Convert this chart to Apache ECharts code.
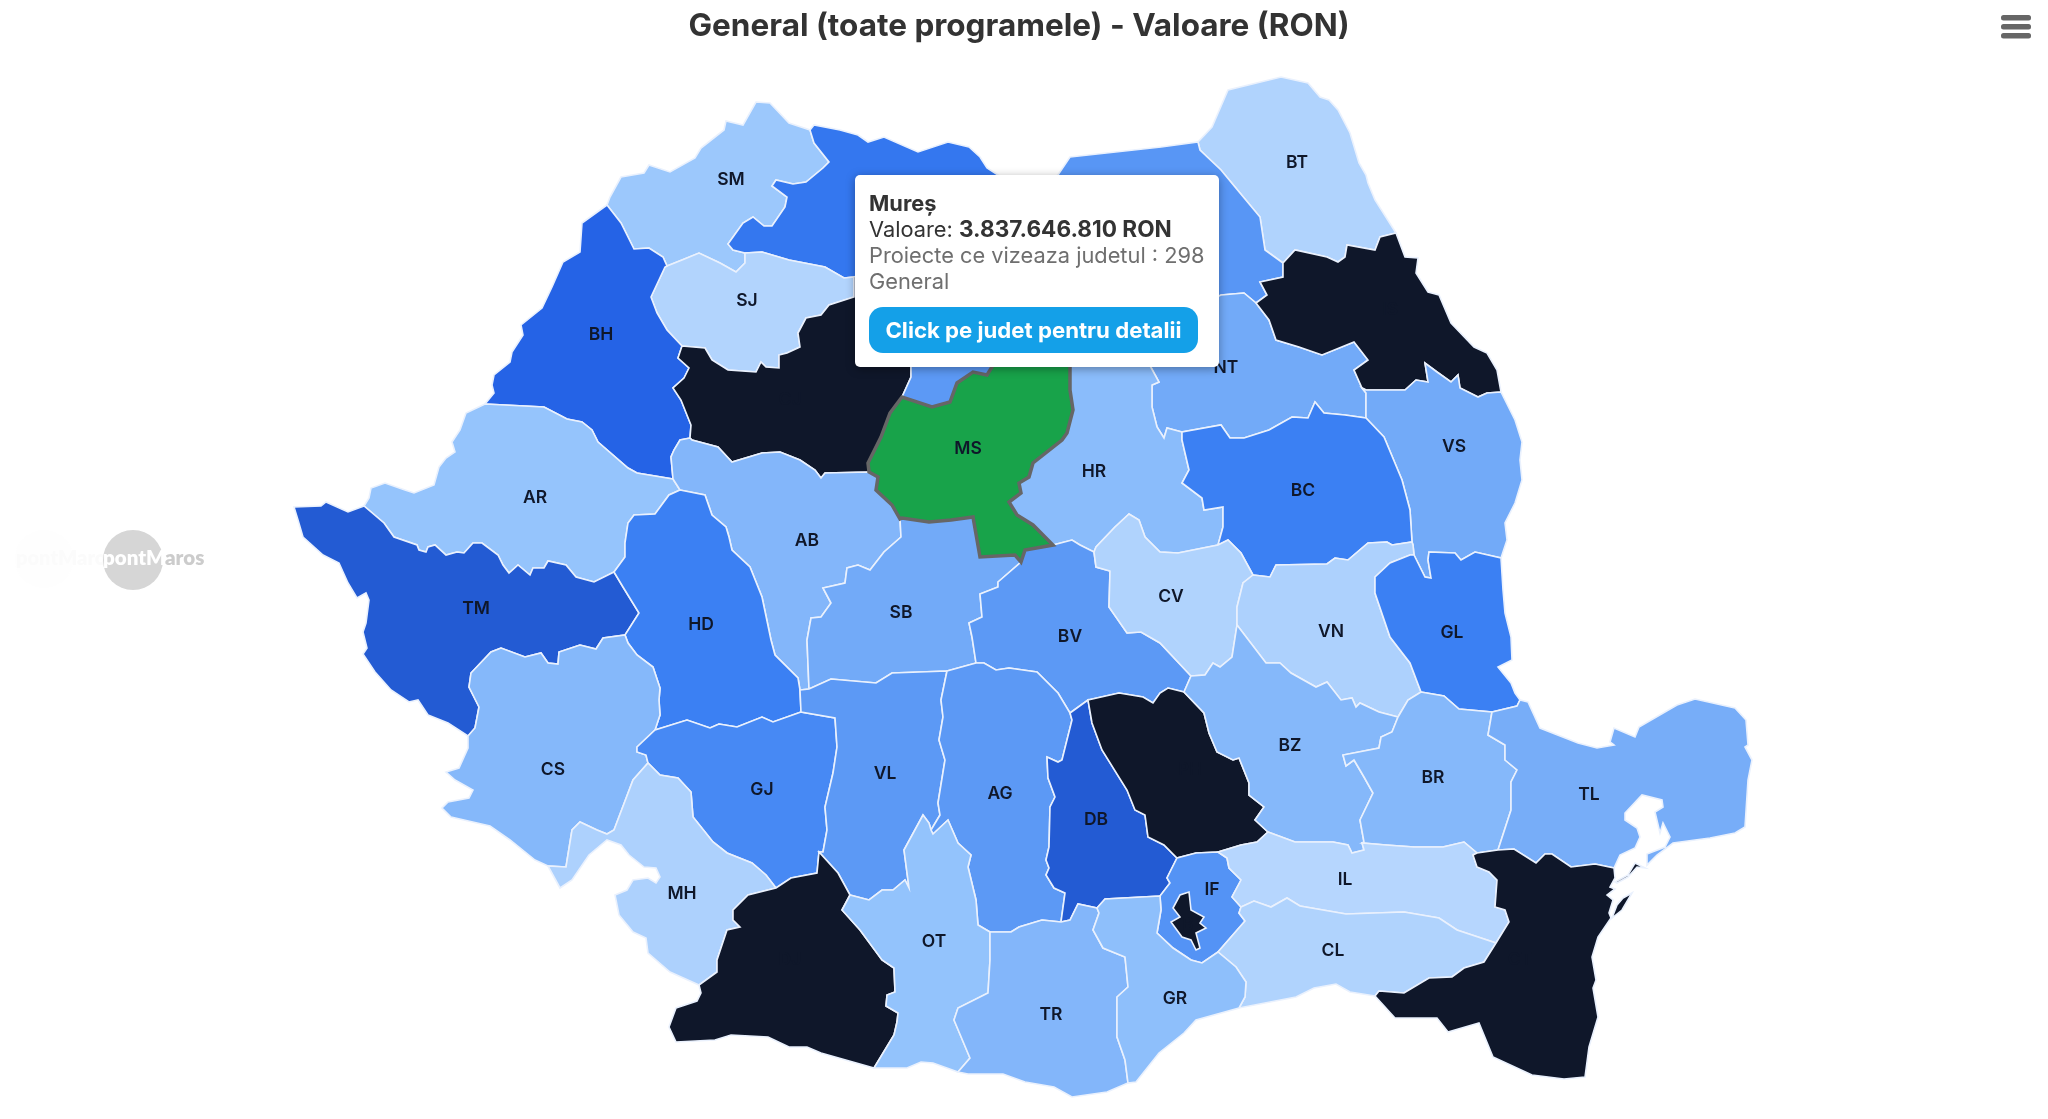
<!DOCTYPE html>
<html>
<head>
<meta charset="utf-8">
<title>General (toate programele) - Valoare (RON)</title>
<script src="https://cdn.jsdelivr.net/npm/echarts@6/dist/echarts.min.js"></script>
<style>
html,body{margin:0;padding:0;background:#fff}
#harta{width:2048px;height:1119px}
</style>
</head>
<body>
<div id="harta"></div>
<script>
var titlu = 'General (toate programele) - Valoare (RON)';

var coduri = ['SM','MM','BT','SV','SJ','BH','CJ','BN','NT','IS','VS','HR','BC','AR','AB','TM','HD','SB','BV','CV','VN','GL','CS','GJ','VL','AG','DB','PH','BZ','BR','TL','MH','DJ','OT','IF','B','IL','CL','TR','GR','CT','MS'];
var judete = ['Satu Mare','Maramureș','Botoșani','Suceava','Sălaj','Bihor','Cluj','Bistrița-Năsăud','Neamț','Iași','Vaslui','Harghita','Bacău','Arad','Alba','Timiș','Hunedoara','Sibiu','Brașov','Covasna','Vrancea','Galați','Caraș-Severin','Gorj','Vâlcea','Argeș','Dâmbovița','Prahova','Buzău','Brăila','Tulcea','Mehedinți','Dolj','Olt','Ilfov','București','Ialomița','Călărași','Teleorman','Giurgiu','Constanța','Mureș'];
// RON, citite din culoare (doar MS e exact, din tooltip)
var valori = [800000000,3300000000,350000000,2300000000,300000000,4000000000,6500000000,2200000000,1700000000,7000000000,1700000000,1200000000,3000000000,950000000,1350000000,4100000000,3000000000,1700000000,2200000000,350000000,400000000,3000000000,1300000000,2700000000,2200000000,2200000000,4100000000,6000000000,1300000000,1300000000,1600000000,400000000,6500000000,1000000000,2400000000,9000000000,200000000,350000000,1350000000,1100000000,7000000000,3837646810];
var proiecte = {MS:298};
var stopuri = ['#bfdbfe','#93c3fc','#649ff6','#3b80f3','#2563e6','#0f172a'];

// limitele comune intre judete, in pixeli
var arce = {
	sm_o:'607,205 610,197 621,177 644,173 649,165 670,172 695,158 701,148 724,130 726,121 743,125 756,102 770,103 789,123 810,130',
	sm_mm:'810,130 814,143 829,162 823,168 806,182 793,184 776,180 772,186 787,197 785,207 772,226 764,226 753,217 743,223 728,244 733,250 745,253',
	sm_sj:'745,253 745,263 736,272 720,263 699,253 682,260 667,266',
	sm_bh:'667,266 663,257 649,248 634,249 621,223 607,205',
	bh_o:'607,205 582,223 580,252 563,262 552,287 542,308 521,325 523,335 512,352 510,362 494,375 492,385 494,393 485,404',
	bh_ar:'485,404 544,407 567,419 582,422 592,430 598,442 628,468 637,473 673,479',
	bh_ab:'673,479 671,457 674,450 680,440 690,438',
	bh_cj:'690,438 691,425 681,400 673,388 684,378 689,368 678,358 682,346',
	bh_sj:'682,346 667,330 657,313 651,297 665,267 667,266',
	mm_sj:'745,253 762,252 789,260 825,267 844,278 854,277',
	sj_cj:'854,277 854,297 829,305 821,315 806,318 798,333 800,347 787,353 779,355 779,368 766,367 761,362 756,372 728,370 712,360 705,348 682,346',
	mm_o:'810,130 814,125 840,130 858,135 868,142 884,137 918,152 948,142 969,147 980,157 987,168 998,175 1030,190',
	mm_sv:'1030,190 1020,250',
	mm_bn:'1020,250 900,262',
	mm_cj:'900,262 854,277',
	cj_bn:'900,262 905,300 911,367 911,377 902,397',
	cj_ms:'902,397 890,413 881,437 868,463 869,472',
	cj_ab:'869,472 825,473 821,478 815,470 800,460 780,452 762,453 732,462 718,447 692,440 690,438',
	bn_sv:'1020,250 1150,330',
	bn_nt:'1150,330 1148,362',
	bn_hr:'1148,362 1065,345',
	bn_ms:'1065,345 1000,345 992,367 987,375 973,372 957,383 950,402 932,407 902,397',
	sv_o:'1030,190 1058,175 1070,157 1161,147 1198,142',
	sv_bt:'1198,142 1200,150 1221,170 1235,187 1260,217 1265,250 1283,263',
	bt_o:'1198,142 1212,127 1228,90 1281,77 1308,83 1320,97 1329,100 1338,110 1350,133 1359,163 1366,175 1368,183 1375,200 1396,233',
	bt_is:'1396,233 1380,237 1375,250 1347,245 1345,257 1338,262 1327,257 1295,250 1283,263',
	is_o:'1396,233 1405,257 1418,258 1416,273 1428,292 1439,295 1451,323 1474,347 1487,353 1497,370 1501,392',
	is_vs:'1501,392 1487,393 1478,397 1460,388 1458,375 1451,382 1437,372 1425,363 1428,382 1416,380 1405,390 1366,390 1362,388',
	is_nt:'1362,388 1354,370 1368,360 1354,342 1322,355 1299,347 1276,340 1269,320 1256,303',
	sv_is:'1283,263 1283,277 1260,282 1267,295 1256,303',
	sv_nt:'1256,303 1244,293 1221,295 1190,310 1150,330',
	nt_vs:'1362,388 1366,393 1366,418',
	nt_bc:'1366,418 1345,415 1324,413 1315,402 1308,418 1292,417 1269,430 1244,438 1230,438 1221,425 1182,432',
	nt_hr:'1182,432 1167,428 1164,438 1157,427 1152,407 1152,385 1159,382 1148,362',
	vs_o:'1501,392 1515,420 1522,442 1520,460 1522,480 1515,503 1505,523 1507,540 1501,558',
	vs_gl:'1501,558 1475,552 1461,560 1455,553 1429,552 1428,560 1431,578 1425,577 1414,555',
	vs_vn:'1414,555 1413,545 1412,542',
	vs_bc:'1412,542 1410,510 1402,480 1384,437 1366,418',
	bc_vn:'1412,542 1392,545 1387,542 1368,543 1348,560 1335,558 1327,564 1276,565 1270,577 1253,575',
	bc_cv:'1253,575 1241,553 1228,540 1218,545',
	bc_hr:'1218,545 1223,527 1223,507 1204,510 1202,498 1182,483 1189,470 1182,440 1182,432',
	hr_cv:'1218,545 1178,553 1160,552 1145,537 1139,520 1129,514 1115,527 1096,547 1094,552',
	hr_bv:'1094,552 1080,545 1072,540 1053,545',
	hr_ms:'1053,545 1033,525 1017,515 1009,502 1021,493 1019,483 1029,477 1033,463 1062,440 1067,433 1073,410 1070,390 1070,367 1065,345',
	ms_bv:'1053,545 1025,550 1021,562',
	ms_sb:'1021,562 1015,555 980,557 973,517 951,520 929,522 902,518 900,519',
	ms_ab:'900,519 892,505 876,490 878,477 869,472',
	ar_ab:'673,479 680,490',
	ab_hd:'680,490 705,495 712,515 726,527 729,537 732,550 750,567 762,597 771,640 775,655 798,678 800,690',
	ab_vl:'800,690 809,689',
	ab_sb:'809,689 807,640 811,618 821,617 831,603 823,588 845,583 847,568 858,565 870,570 884,552 901,537 900,519',
	ar_o:'485,404 466,413 460,430 452,442 455,452 446,458 439,467 434,485 414,493 405,490 385,483 371,488 369,498 364,506',
	ar_tm:'364,506 384,523 394,537 417,545 419,550 426,552 428,547 435,545 446,555 457,552 464,553 473,543 482,543 498,555 503,565 509,573 518,565 530,575 533,568 544,568 548,561 566,565 576,577 594,582 614,572',
	ar_hd:'614,572 625,557 625,543 628,523 634,515 655,514 669,495 680,490',
	tm_o:'364,506 348,512 326,502 321,506 294,507 298,520 303,537 323,555 339,563 348,583 357,598 366,593 369,600 366,623 363,632 367,648 363,654 375,672 391,690 409,702 418,700 428,715 448,723 468,736',
	tm_cs:'468,736 475,728 479,707 469,687 471,673 491,652 501,648 525,657 541,653 548,663 558,664 559,652 580,645 596,649 603,638 625,635',
	tm_hd:'625,635 639,613 623,587 614,572',
	hd_vl:'800,690 801,712',
	hd_gj:'801,712 773,722 762,717 737,727 719,724 710,728 687,720 655,730',
	hd_cs:'655,730 660,715 659,700 660,688 653,667 637,655 628,643 625,635',
	cs_o:'468,736 468,748 459,768 446,772 455,780 473,790 469,798 448,802 442,808 451,817 490,826 510,840 535,860 548,866',
	cs_mh:'548,866 566,867 572,830 580,822 597,830 607,834 614,830 633,780 648,763',
	cs_gj:'655,730 637,747 637,752 646,755 648,763',
	gj_vl:'801,712 835,718 837,747 833,773 825,807 827,830 823,852 819,852',
	gj_dj:'819,852 817,873 791,878 776,888',
	gj_mh:'776,888 766,875 752,863 727,853 713,842 693,817 691,792 678,778 660,775 648,763',
	mh_o:'548,866 560,888 572,880 589,855 607,840 621,845 629,855 644,867 656,868 660,877 656,883 648,878 633,880 627,890 615,895 619,915 633,932 646,938 648,953 670,972 699,985',
	mh_dj:'699,985 717,972 717,960 727,930 740,927 733,920 733,910 748,895 776,888',
	dj_o:'699,985 701,993 697,1001 676,1008 669,1027 676,1042 715,1040 731,1035 768,1037 789,1047 807,1047 821,1053 874,1068',
	ot_dj:'874,1068 894,1035 897,1022 898,1013 886,1006 887,995 895,992 894,968 882,960 860,930 842,910 850,895',
	vl_dj:'850,895 838,873 819,852',
	vl_ot:'850,895 869,900 882,890 893,890 905,880 909,888 904,850 923,815 929,823 931,830',
	vl_sb:'809,689 831,679 876,683 892,673 947,671',
	vl_ag:'947,671 941,700 943,717 939,740 945,760 938,803 940,815 931,830',
	ot_ag:'931,830 933,834 948,820 958,843 971,855 968,867 976,900 978,925 990,932',
	ot_tr:'990,932 990,960 988,993 958,1008 954,1020 970,1058 958,1072',
	ot_o:'874,1068 887,1068 907,1068 921,1062 933,1063 958,1072',
	sb_ag:'947,671 976,663',
	ag_bv:'976,663 984,663 996,670 1009,668 1037,672 1058,693 1070,713',
	ag_db:'1070,713 1072,720 1062,760 1058,762 1047,757 1048,778 1055,797 1050,807 1049,847 1046,860 1049,868 1046,875 1054,888 1065,893 1061,922',
	ag_tr:'990,932 1011,932 1019,927 1042,920 1061,922',
	sb_bv:'1021,562 998,582 998,587 980,594 982,617 969,623 972,637 976,663',
	bv_cv:'1094,552 1096,567 1110,571 1109,607 1127,633 1141,632 1160,643 1191,676',
	bv_bz:'1191,676 1184,692',
	bv_ph:'1184,692 1168,688 1160,693 1153,703 1143,697 1119,693 1088,700',
	bv_db:'1088,700 1070,713',
	cv_vn:'1253,575 1243,583 1237,607 1237,625',
	cv_bz:'1237,625 1232,657 1220,667 1213,663 1205,675 1191,676',
	vn_gl:'1414,555 1410,555 1390,563 1375,577 1375,593 1390,637 1410,663 1421,692',
	vn_br:'1421,692 1408,700 1398,717',
	vn_bz:'1398,717 1379,712 1360,703 1356,707 1352,698 1341,700 1327,682 1316,687 1291,673 1280,663 1266,663 1237,625',
	gl_o:'1501,558 1503,590 1505,613 1511,637 1512,660 1498,667 1511,683 1515,693 1520,700',
	gl_tl:'1520,700 1517,706 1492,712',
	gl_br:'1492,712 1459,709 1444,696 1421,692',
	bz_br:'1398,717 1392,732 1381,737 1379,748 1343,755 1346,766 1354,760 1364,777 1373,793 1360,820 1364,842 1362,843',
	bz_il:'1362,843 1364,850 1352,853 1348,845 1333,842 1295,842 1268,832',
	bz_ph:'1268,832 1255,820 1264,807 1249,795 1249,783 1239,758 1233,760 1217,752 1209,733 1204,713 1184,692',
	br_tl:'1492,712 1488,735 1505,745 1505,760 1517,770 1511,782 1511,810 1498,850',
	br_ct:'1498,850 1477,853',
	br_il:'1477,853 1464,842 1443,847 1414,847 1386,845 1362,843',
	tl_o:'1520,700 1528,702 1540,728 1578,743 1597,748 1614,745 1610,742 1614,728 1635,737 1639,727 1677,705 1695,699 1735,708 1746,720 1748,745 1745,747 1752,760 1748,780 1745,827 1735,833 1710,838 1673,843 1657,855 1647,865 1647,854 1665,847 1670,837 1663,823 1660,833 1655,812 1663,807 1662,800 1642,795 1625,813 1625,820 1637,828 1640,837 1635,848 1620,855 1614,868',
	tl_ct:'1614,868 1595,864 1571,867 1552,854 1545,854 1536,863 1514,849 1498,850',
	ct_o:'1614,868 1615,878 1610,887 1615,889 1607,895 1613,900 1609,913 1611,918 1598,937 1592,957 1596,980 1593,988 1598,1017 1589,1047 1585,1077 1564,1079 1532,1075 1493,1057 1479,1023 1448,1032 1437,1018 1395,1018 1375,996',
	cl_ct:'1375,996 1379,991 1404,993 1429,978 1452,977 1464,968 1484,962 1496,943',
	ct_il:'1496,943 1509,922 1505,910 1495,907 1497,880 1489,872 1477,867 1473,855 1477,853',
	il_cl:'1496,943 1457,930 1439,918 1404,912 1346,914 1300,906 1287,898 1271,907 1254,901 1241,907',
	il_if:'1241,907 1232,897 1241,880 1229,868 1227,858 1218,852',
	il_ph:'1218,852 1241,845 1257,842 1268,832',
	ph_if:'1218,852 1196,853 1177,858',
	ph_db:'1177,858 1164,845 1148,837 1145,815 1135,810 1127,790 1102,750 1092,723 1088,700',
	if_cl:'1218,952 1245,921 1239,913 1241,907',
	if_gr:'1218,952 1202,963 1191,960 1173,948 1157,933 1161,910 1160,896',
	if_db:'1160,896 1170,883 1167,878 1177,858',
	db_gr:'1160,896 1105,899 1097,908',
	db_tr:'1097,908 1078,904 1070,920 1061,922',
	gr_cl:'1239,1008 1245,997 1246,982 1236,967 1218,952',
	gr_o:'1239,1008 1196,1020 1184,1033 1159,1053 1136,1082 1128,1083',
	gr_tr:'1128,1083 1125,1060 1117,1037 1117,997 1128,987 1125,957 1103,948 1093,930 1099,913 1097,908',
	cl_o:'1239,1008 1296,997 1314,988 1336,984 1350,992 1375,996',
	tr_o:'958,1072 968,1074 1003,1074 1025,1082 1054,1087 1072,1097 1107,1092 1128,1083',
	b_contur:'1189,892 1191,910 1204,917 1200,923 1206,928 1196,933 1200,948 1196,950 1191,940 1182,937 1171,922 1180,917 1173,908 1180,895 1189,892',
	ct_delta1:'1615,882 1628,875 1635,863 1645,868 1637,867 1628,877 1617,883 1615,882',
	ct_delta2:'1632,893 1622,910 1612,918 1617,905 1623,898 1632,893'
};

// fiecare judet = inel de arce, '-' inseamna parcurs invers
var inele = {
	SM:['sm_o','sm_mm','sm_sj','sm_bh'],
	MM:['mm_o','mm_sv','mm_bn','mm_cj','-mm_sj','-sm_mm'],
	BT:['bt_o','bt_is','-sv_bt'],
	SV:['sv_o','sv_bt','sv_is','sv_nt','-bn_sv','-mm_sv'],
	SJ:['-sm_sj','mm_sj','sj_cj','bh_sj'],
	BH:['bh_o','bh_ar','bh_ab','bh_cj','bh_sj','sm_bh'],
	CJ:['-mm_cj','cj_bn','cj_ms','cj_ab','bh_cj','-sj_cj'],
	BN:['-mm_bn','bn_sv','bn_nt','bn_hr','bn_ms','-cj_bn'],
	NT:['-sv_nt','-is_nt','nt_vs','nt_bc','nt_hr','-bn_nt'],
	IS:['-bt_is','is_o','is_vs','is_nt','-sv_is'],
	VS:['-is_vs','vs_o','vs_gl','vs_vn','vs_bc','-nt_vs'],
	HR:['-nt_hr','-bc_hr','hr_cv','hr_bv','hr_ms','-bn_hr'],
	BC:['-vs_bc','bc_vn','bc_cv','bc_hr','-nt_bc'],
	AR:['ar_o','ar_tm','ar_hd','-ar_ab','-bh_ar'],
	AB:['ar_ab','ab_hd','ab_vl','ab_sb','ms_ab','cj_ab','-bh_ab'],
	TM:['tm_o','tm_cs','tm_hd','-ar_tm'],
	HD:['ar_hd','ab_hd','hd_vl','hd_gj','hd_cs','tm_hd'],
	SB:['ab_sb','-ms_sb','sb_bv','-sb_ag','-vl_sb'],
	BV:['-hr_bv','bv_cv','bv_bz','bv_ph','bv_db','-ag_bv','-sb_bv','-ms_bv'],
	CV:['-hr_cv','-bc_cv','cv_vn','cv_bz','-bv_cv'],
	VN:['-bc_vn','-vs_vn','vn_gl','vn_br','vn_bz','-cv_vn'],
	GL:['-vs_gl','gl_o','gl_tl','gl_br','-vn_gl'],
	CS:['cs_o','cs_mh','-cs_gj','hd_cs','-tm_cs'],
	GJ:['-hd_gj','gj_vl','gj_dj','gj_mh','-cs_gj'],
	VL:['ab_vl','vl_sb','vl_ag','-vl_ot','vl_dj','-gj_vl','-hd_vl'],
	AG:['sb_ag','ag_bv','ag_db','-ag_tr','-ot_ag','-vl_ag'],
	DB:['-bv_db','-ph_db','-if_db','db_gr','db_tr','-ag_db'],
	PH:['-bv_ph','-bz_ph','-il_ph','ph_if','ph_db'],
	BZ:['-vn_bz','bz_br','bz_il','bz_ph','-bv_bz','-cv_bz'],
	BR:['-vn_br','-gl_br','br_tl','br_ct','br_il','-bz_br'],
	TL:['-gl_tl','tl_o','tl_ct','-br_tl'],
	MH:['mh_o','mh_dj','gj_mh','-cs_mh'],
	DJ:['-mh_dj','dj_o','ot_dj','vl_dj','gj_dj'],
	OT:['vl_ot','ot_ag','ot_tr','-ot_o','ot_dj'],
	IF:['-il_if','-if_cl','if_gr','if_db','-ph_if'],
	B:['b_contur'],
	IL:['-bz_il','-br_il','-ct_il','il_cl','il_if','il_ph'],
	CL:['-cl_ct','-cl_o','gr_cl','if_cl','-il_cl'],
	TR:['-gr_tr','-tr_o','-ot_tr','ag_tr','-db_tr'],
	GR:['-db_gr','-if_gr','-gr_cl','gr_o','gr_tr'],
	CT:['-tl_ct','ct_o','cl_ct','ct_il','-br_ct'],
	MS:['-hr_ms','ms_bv','ms_sb','ms_ab','-cj_ms','-bn_ms']
};

// unde sta eticheta fiecarui judet
var etichete = {SM:[731,180],MM:[910,215],BT:[1297,163],SV:[1150,230],SJ:[747,301],BH:[601,335],CJ:[790,400],BN:[985,320],NT:[1226,368],IS:[1390,310],VS:[1454,447],HR:[1094,472],BC:[1303,491],AR:[535,498],AB:[807,541],TM:[476,609],HD:[701,625],SB:[901,613],BV:[1070,637],CV:[1171,597],VN:[1331,632],GL:[1452,633],CS:[553,770],GJ:[762,790],VL:[885,774],AG:[1000,794],DB:[1096,820],PH:[1190,770],BZ:[1290,746],BR:[1433,778],TL:[1589,795],MH:[682,894],DJ:[790,960],OT:[934,942],IF:[1212,890],B:[1188,925],IL:[1345,880],CL:[1333,951],TR:[1051,1015],GR:[1175,999],CT:[1520,960],MS:[968,449]};

function citesteArc(nume) {
	var invers = nume.charAt(0) == '-';
	var pct = arce[invers ? nume.slice(1) : nume].split(' ').map(function (p) {
		var xy = p.split(',');
		return [+xy[0], -xy[1]];
	});
	return invers ? pct.reverse() : pct;
}

function inel(lista) {
	var rez = [];
	lista.forEach(function (a) { rez = rez.concat(citesteArc(a)); });
	return rez;
}

var features = coduri.map(function (c) {
	var geom = {type:'Polygon', coordinates:[inel(inele[c])]};
	if (c == 'CT') {
		geom = {type:'MultiPolygon', coordinates:[[inel(inele[c])], [inel(['ct_delta1'])], [inel(['ct_delta2'])]]};
	}
	return {
		type:'Feature',
		properties:{name:c, cp:[etichete[c][0], -etichete[c][1]]},
		geometry:geom
	};
});

echarts.registerMap('romania', {type:'FeatureCollection', features:features});

function faraZecimale(n) {
	return String(n).replace(/\B(?=(\d{3})+(?!\d))/g, '.');
}

var chart = echarts.init(document.getElementById('harta'));

var fontul = 'Inter, Roboto, sans-serif';
var xBara = 2001;

chart.setOption({
	animation:false,
	backgroundColor:'#ffffff',
	title:{
		text:titlu,
		left:1014,
		top:6,
		textAlign:'center',
		textStyle:{color:'#333333', fontSize:31.5, fontWeight:700, fontFamily:fontul}
	},
	tooltip:{
		trigger:'item',
		triggerOn:'none',
		alwaysShowContent:true,
		transitionDuration:0,
		position:[855,175],
		padding:0,
		borderWidth:0,
		backgroundColor:'#ffffff',
		extraCssText:'width:364px;height:192px;box-sizing:border-box;padding:15px 14px;border-radius:5px;box-shadow:0 2px 10px rgba(0,0,0,.35);',
		formatter:function (p) {
			var i = coduri.indexOf(p.name);
			return '<div style="font:400 21.8px/26px ' + fontul + ';color:#333">' +
				'<b>' + judete[i] + '</b><br>Valoare: <b style="font-size:22.6px">' + faraZecimale(valori[i]) + ' RON</b><br>' +
				'<span style="color:#6f6f6f">Proiecte ce vizeaza judetul : ' + proiecte[p.name] + '<br>General</span>' +
				'<div style="margin-top:13px;width:329px;height:46px;line-height:46px;border-radius:14px;background:#14a0e8;color:#fff;font-weight:700;font-size:22.2px;text-align:center">Click pe judet pentru detalii</div>' +
				'</div>';
		}
	},
	visualMap:{
		show:false,
		seriesIndex:0,
		min:0,
		max:5000000000,
		inRange:{color:stopuri},
		outOfRange:{color:['#0f172a']}
	},
	series:[{
		type:'map',
		map:'romania',
		roam:false,
		aspectScale:1,
		left:294,
		top:77,
		width:1458,
		height:1020,
		selectedMode:false,
		itemStyle:{borderColor:'#eaf1fd', borderWidth:1.6},
		label:{show:true, color:'#0f172a', fontSize:17.5, fontWeight:600, fontFamily:fontul},
		emphasis:{
			label:{show:true, color:'#0f172a', fontSize:17.5, fontWeight:600},
			itemStyle:{areaColor:'#18a34a', borderColor:'#666666', borderWidth:3.5}
		},
		data:coduri.map(function (c, i) {
			return {name:c, value:valori[i]};
		})
	}],
	graphic:[
		{type:'rect', left:xBara, top:15, shape:{width:30, height:5.5, r:2.5}, style:{fill:'#666666'}},
		{type:'rect', left:xBara, top:24, shape:{width:30, height:5.5, r:2.5}, style:{fill:'#666666'}},
		{type:'rect', left:xBara, top:33, shape:{width:30, height:5.5, r:2.5}, style:{fill:'#666666'}},
		{type:'circle', left:15, top:530, shape:{r:29}, style:{fill:'#fefefe'}},
		{type:'text', left:16, top:549, style:{text:'pontMaros', fill:'#fbfbfb', font:'800 20px Lato, sans-serif'}},
		{type:'circle', left:103, top:530, shape:{r:30}, style:{fill:'#d6d6d6'}},
		{type:'text', left:103, top:548, style:{text:'pontM', fill:'#ffffff', font:'800 20.5px Lato, sans-serif'}},
		{type:'text', left:165, top:548, style:{text:'aros', fill:'#cccccc', font:'800 20.5px Lato, sans-serif'}}
	]
});

var iMS = coduri.indexOf('MS');
chart.dispatchAction({type:'highlight', seriesIndex:0, dataIndex:iMS});
chart.dispatchAction({type:'showTip', seriesIndex:0, dataIndex:iMS});
</script>
</body>
</html>
